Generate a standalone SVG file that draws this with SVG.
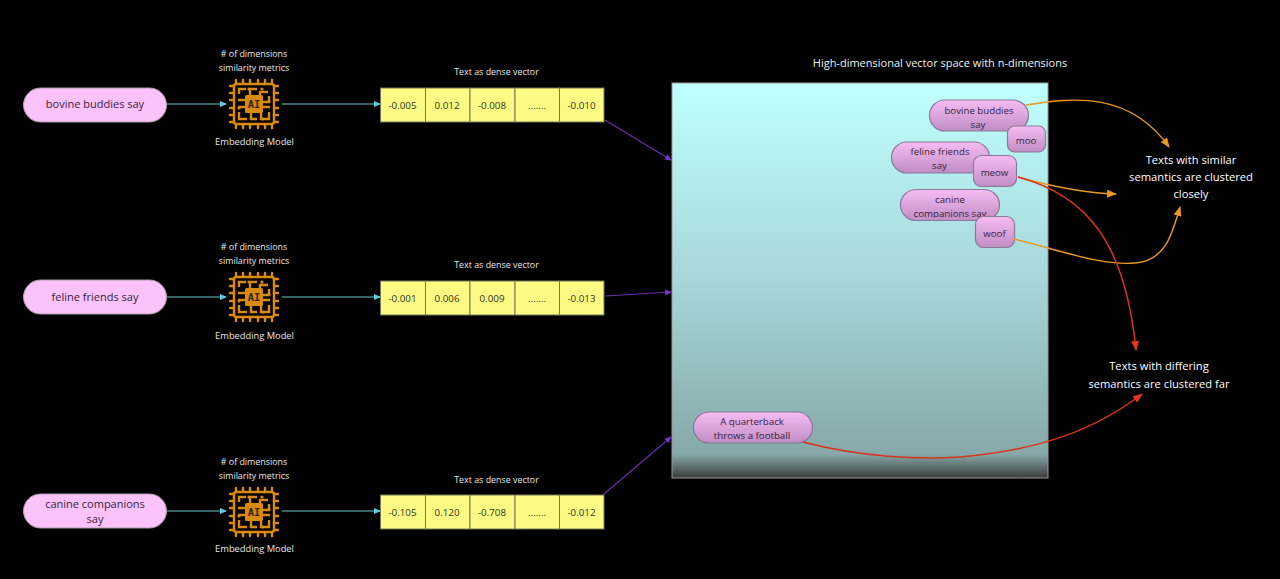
<svg xmlns="http://www.w3.org/2000/svg" width="1280" height="579" viewBox="0 0 1280 579">
<style>
text{font-family:"Open Sans","Noto Sans","Liberation Sans",sans-serif;text-anchor:middle}
.cap{font-size:8.9px;fill:#e8e8e8}
.em{font-size:9.3px;fill:#e8e8e8}
.title{font-size:11px;fill:#f0f0f0}
.white{font-size:11.2px;fill:#fff}
.pill{fill:#fcc2fb;stroke:#a99aa8;stroke-width:1}
.pt{font-size:11px;fill:#33243f}
.cell{fill:#fbfb84;stroke:#77775a;stroke-width:1}
.ct{font-size:9.8px;fill:#33331f}
.bub{fill:url(#bub);stroke:#8a7a98;stroke-width:1.2}
.bt{font-size:9.7px;fill:#33243f}
.teal{stroke:#6fc8c8;stroke-width:1.1;fill:none}
.purple{stroke:#6a2fb0;stroke-width:1.1;fill:none}
.orange{stroke:#e8981f;stroke-width:1.4;fill:none}
.red{stroke:#d8341a;stroke-width:1.5;fill:none}
.chip{fill:none;stroke:#d98a10;stroke-width:2.4}
.chipf{fill:#d98a10}
</style>
<defs>
<linearGradient id="space" x1="0" y1="0" x2="0" y2="1">
<stop offset="0" stop-color="#c0ffff"/>
<stop offset="0.5" stop-color="#a6d6d8"/>
<stop offset="0.94" stop-color="#86a8a8"/>
<stop offset="1" stop-color="#3c3c3c"/>
</linearGradient>
<linearGradient id="bub" x1="0" y1="0" x2="0" y2="1">
<stop offset="0" stop-color="#f6bdf4"/>
<stop offset="1" stop-color="#c08cc4"/>
</linearGradient>
<clipPath id="canclip"><rect x="900" y="189" width="100" height="28.500"/></clipPath>
<marker id="mt" markerWidth="7" markerHeight="6" refX="6" refY="3" orient="auto" markerUnits="userSpaceOnUse"><path d="M0 0L7 3L0 6z" fill="#5fd0d8"/></marker>
<marker id="mp" markerWidth="7" markerHeight="6" refX="6" refY="3" orient="auto" markerUnits="userSpaceOnUse"><path d="M0 0L7 3L0 6z" fill="#7a35c8"/></marker>
<marker id="mo" markerWidth="10" markerHeight="8" refX="9" refY="4" orient="auto" markerUnits="userSpaceOnUse"><path d="M0 0L10 4L0 8z" fill="#e8981f"/></marker>
<marker id="mr" markerWidth="10" markerHeight="8" refX="9" refY="4" orient="auto" markerUnits="userSpaceOnUse"><path d="M0 0L10 4L0 8z" fill="#e8341a"/></marker>
<symbol id="ai" viewBox="-25 -25 50 50" width="50" height="50" overflow="visible">
<rect x="-20" y="-20" width="40" height="40" rx="2.500" class="chip"/>
<path class="chip" d="M-18 -24V-20M-11 -24V-20M-4 -24V-20M4 -24V-20M11 -24V-20M18 -24V-20M-18 24V20M-11 24V20M-4 24V20M4 24V20M11 24V20M18 24V20M-24 -18H-20M-24 -11H-20M-24 -4H-20M-24 4H-20M-24 11H-20M-24 18H-20M24 -18H20M24 -11H20M24 -4H20M24 4H20M24 11H20M24 18H20" stroke-width="3.200" stroke-linecap="round"/>
<rect x="-9" y="-9" width="18" height="18" rx="1.500" class="chipf"/>
<path class="chip" stroke-width="1.300" d="M-15 -10V-15H-8M-4 -9V-15H3M6 -9V-12H14M15 -8V-2H9M-16 -4H-9M-16 3H-9M-15 8V15H-7M-3 9V15H3M7 9V15H15V8M16 3H9"/>
<circle cx="-5" cy="-15" r="1.600" class="chipf"/><circle cx="8" cy="-15" r="1.600" class="chipf"/><circle cx="15" cy="-3" r="1.600" class="chipf"/><circle cx="-15" cy="4" r="1.600" class="chipf"/><circle cx="9" cy="15" r="1.600" class="chipf"/>
<text x="0" y="3.800" style="font-family:'DejaVu Sans Mono',monospace;font-size:10.500px;font-weight:bold;fill:#3a2405">AI</text>
</symbol>
</defs>
<rect width="1280" height="579" fill="#000"/>
<g id="space-box">
<rect x="672" y="83" width="376" height="395" fill="url(#space)" stroke="#999" stroke-width="1"/>
<text class="title" x="940" y="67">High-dimensional vector space with n-dimensions</text>
</g>
<g id="connectors">
<path class="teal" marker-end="url(#mt)" d="M167 104H226"/>
<path class="teal" d="M282 104H380" marker-end="url(#mt)"/>
<path class="teal" marker-end="url(#mt)" d="M167 297H226"/>
<path class="teal" d="M282 297H380" marker-end="url(#mt)"/>
<path class="teal" marker-end="url(#mt)" d="M167 511H226"/>
<path class="teal" d="M282 511H380" marker-end="url(#mt)"/>
<path class="purple" marker-end="url(#mp)" d="M605 120L671 160"/>
<path class="purple" marker-end="url(#mp)" d="M605 296L671 292"/>
<path class="purple" marker-end="url(#mp)" d="M604 494L671 437"/>
</g>
<g id="n-pill-1"><rect class="pill" x="23.500" y="88" width="143" height="34" rx="17"/><text class="pt" x="95" y="108">bovine buddies say</text></g>
<g id="n-pill-2"><rect class="pill" x="23.500" y="280" width="143" height="34" rx="17"/><text class="pt" x="95" y="300.500">feline friends say</text></g>
<g id="n-pill-3"><rect class="pill" x="23.500" y="494" width="143" height="34" rx="17"/><text class="pt" x="95" y="508">canine companions</text><text class="pt" x="95" y="523">say</text></g>
<g id="n-model-1"><text class="cap" x="254" y="57">#  of dimensions</text><text class="cap" x="254" y="71">similarity metrics</text><use href="#ai" x="229" y="79"/><text class="em" x="254.500" y="145">Embedding Model</text></g>
<g id="n-model-2"><text class="cap" x="254" y="250">#  of dimensions</text><text class="cap" x="254" y="264">similarity metrics</text><use href="#ai" x="229" y="272"/><text class="em" x="254.500" y="339">Embedding Model</text></g>
<g id="n-model-3"><text class="cap" x="254" y="464.500">#  of dimensions</text><text class="cap" x="254" y="478.500">similarity metrics</text><use href="#ai" x="229" y="487"/><text class="em" x="254.500" y="552">Embedding Model</text></g>
<g id="n-vector-1">
<text class="cap" x="496.500" y="75">Text as dense vector</text>
<rect class="cell" x="380.500" y="88" width="45" height="34"/><rect class="cell" x="425.500" y="88" width="44.500" height="34"/><rect class="cell" x="470" y="88" width="45" height="34"/><rect class="cell" x="515" y="88" width="44.500" height="34"/><rect class="cell" x="559.500" y="88" width="44.500" height="34"/>
<text class="ct" x="402.500" y="108.500">-0.005</text><text class="ct" x="447" y="108.500">0.012</text><text class="ct" x="492" y="108.500">-0.008</text><text class="ct" x="537" y="108.500">.......</text><text class="ct" x="581.500" y="108.500">-0.010</text>
</g>
<g id="n-vector-2">
<text class="cap" x="496.500" y="268">Text as dense vector</text>
<rect class="cell" x="380.500" y="281" width="45" height="34"/><rect class="cell" x="425.500" y="281" width="44.500" height="34"/><rect class="cell" x="470" y="281" width="45" height="34"/><rect class="cell" x="515" y="281" width="44.500" height="34"/><rect class="cell" x="559.500" y="281" width="44.500" height="34"/>
<text class="ct" x="402.500" y="301.500">-0.001</text><text class="ct" x="447" y="301.500">0.006</text><text class="ct" x="492" y="301.500">0.009</text><text class="ct" x="537" y="301.500">.......</text><text class="ct" x="581.500" y="301.500">-0.013</text>
</g>
<g id="n-vector-3">
<text class="cap" x="496.500" y="483">Text as dense vector</text>
<rect class="cell" x="380.500" y="495" width="45" height="34"/><rect class="cell" x="425.500" y="495" width="44.500" height="34"/><rect class="cell" x="470" y="495" width="45" height="34"/><rect class="cell" x="515" y="495" width="44.500" height="34"/><rect class="cell" x="559.500" y="495" width="44.500" height="34"/>
<text class="ct" x="402.500" y="515.500">-0.105</text><text class="ct" x="447" y="515.500">0.120</text><text class="ct" x="492" y="515.500">-0.708</text><text class="ct" x="537" y="515.500">.......</text><text class="ct" x="581.500" y="515.500">-0.012</text>
</g>
<g id="n-b-bovine"><rect class="bub" x="929.500" y="100" width="99" height="31" rx="15.500"/><text class="bt" x="979" y="113.500">bovine buddies</text><text class="bt" x="978" y="127.500">say</text></g>
<g id="n-b-moo"><rect class="bub" x="1007.500" y="126" width="38" height="26" rx="7"/><text class="bt" x="1026" y="143.500">moo</text></g>
<g id="n-b-feline"><rect class="bub" x="891.500" y="142" width="98" height="31" rx="15.500"/><text class="bt" x="940" y="155">feline friends</text><text class="bt" x="939.500" y="169">say</text></g>
<g id="n-b-meow"><rect class="bub" x="973.500" y="155.500" width="43" height="31" rx="8"/><text class="bt" x="994.500" y="175.500">meow</text></g>
<g id="n-b-canine"><rect class="bub" x="900.500" y="189.500" width="99" height="31" rx="15.500"/><text class="bt" x="950" y="203">canine</text><text class="bt" x="950" y="216.500" clip-path="url(#canclip)">companions say</text></g>
<g id="n-b-woof"><rect class="bub" x="975.500" y="216.500" width="39" height="31" rx="8"/><text class="bt" x="994.500" y="237">woof</text></g>
<g id="n-b-quarter"><rect class="bub" x="693.500" y="412" width="119" height="31" rx="15.500"/><text class="bt" x="752" y="425">A quarterback</text><text class="bt" x="752" y="439">throws a football</text></g>
<g id="connectors-2">
<path class="orange" marker-end="url(#mo)" d="M1026 105C1075 97 1130 92 1169 147"/>
<path class="orange" marker-end="url(#mo)" d="M1018 177C1050 186 1085 193 1116 194"/>
<path class="orange" marker-end="url(#mo)" d="M1014 239C1060 250 1100 266 1135 263C1165 261 1172 235 1180 207"/>
<path class="red" marker-end="url(#mr)" d="M1018 177C1085 195 1125 240 1136 350"/>
<path class="red" marker-end="url(#mr)" d="M803 442C860 457 920 460 960 457C1040 450 1095 430 1142 394"/>
</g>
<g id="n-note-1"><text class="white" x="1191" y="164">Texts with similar</text><text class="white" x="1191" y="181">semantics are clustered</text><text class="white" x="1191" y="198">closely</text></g>
<g id="n-note-2"><text class="white" x="1159" y="370">Texts with differing</text><text class="white" x="1159" y="388">semantics are clustered far</text></g>
</svg>
